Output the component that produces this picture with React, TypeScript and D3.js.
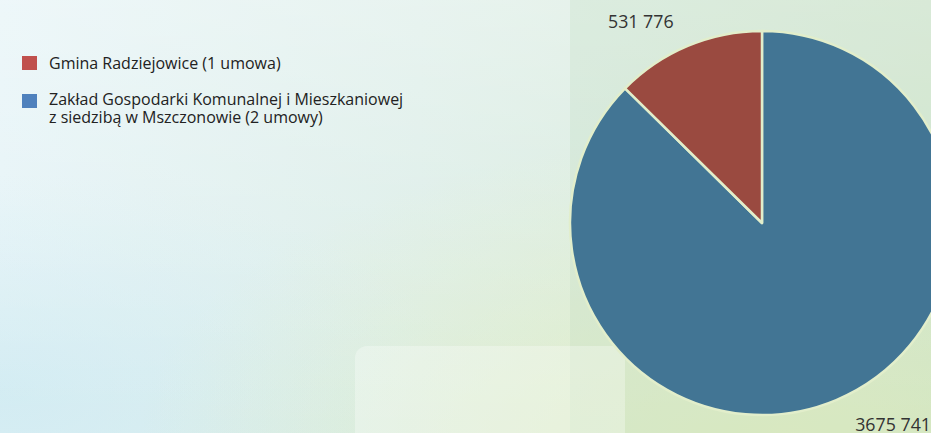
import React, { useEffect, useRef } from "react";
import * as d3 from "d3";

const categories = [
  "Zakład Gospodarki Komunalnej i Mieszkaniowej z siedzibą w Mszczonowie (2 umowy)",
  "Gmina Radziejowice (1 umowa)",
];
const values = [3675741, 531776];
const valueLabels = ["3675 741", "531 776"];
const sliceColors = ["#427594", "#9a4a40"];
const legendLabels = [
  ["Gmina Radziejowice (1 umowa)"],
  ["Zakład Gospodarki Komunalnej i Mieszkaniowej", "z siedzibą w Mszczonowie (2 umowy)"],
];
const legendColors = ["#c0504d", "#4f81bd"];

const W = 931;
const H = 433;

export default function App() {
  const ref = useRef<SVGSVGElement>(null);
  useEffect(() => {
    const svg = d3.select(ref.current);
    svg.selectAll("*").remove();
    const defs = svg.append("defs");
    const g1 = defs.append("linearGradient").attr("id", "bgx").attr("x1", 0).attr("y1", 0).attr("x2", 1).attr("y2", 0);
    g1.append("stop").attr("offset", 0).attr("stop-color", "#e2f2f6");
    g1.append("stop").attr("offset", 0.45).attr("stop-color", "#d9ece6");
    g1.append("stop").attr("offset", 1).attr("stop-color", "#cfe5cc");
    const g2 = defs.append("linearGradient").attr("id", "bgy").attr("x1", 0).attr("y1", 0).attr("x2", 0).attr("y2", 1);
    g2.append("stop").attr("offset", 0).attr("stop-color", "#ffffff").attr("stop-opacity", 0.4);
    g2.append("stop").attr("offset", 1).attr("stop-color", "#ffffff").attr("stop-opacity", 0);
    const g3 = defs.append("radialGradient").attr("id", "bgr").attr("cx", 0.85).attr("cy", 1).attr("r", 0.7);
    g3.append("stop").attr("offset", 0).attr("stop-color", "#e4efc2").attr("stop-opacity", 0.9);
    g3.append("stop").attr("offset", 1).attr("stop-color", "#e4efc2").attr("stop-opacity", 0);
    const g4 = defs.append("radialGradient").attr("id", "bgl").attr("cx", 0).attr("cy", 0.9).attr("r", 0.5);
    g4.append("stop").attr("offset", 0).attr("stop-color", "#d0ebf2").attr("stop-opacity", 0.9);
    g4.append("stop").attr("offset", 1).attr("stop-color", "#d0ebf2").attr("stop-opacity", 0);

    svg.append("rect").attr("width", W).attr("height", H).attr("fill", "url(#bgx)");
    svg.append("rect").attr("width", W).attr("height", H).attr("fill", "url(#bgl)");
    svg.append("rect").attr("width", W).attr("height", H).attr("fill", "url(#bgr)");
    svg.append("rect").attr("width", W).attr("height", H).attr("fill", "url(#bgy)");
    svg.append("rect").attr("x", 570).attr("y", 0).attr("width", W - 570).attr("height", H)
      .attr("fill", "#b8d8b8").attr("opacity", 0.22);
    svg.append("rect").attr("x", 355).attr("y", 346).attr("width", 270).attr("height", 120).attr("rx", 12)
      .attr("fill", "#ffffff").attr("opacity", 0.3);

    const cx = 762, cy = 223, r = 192;
    const pie = d3.pie<number>().sort(null).value((d) => d);
    const arcs = pie(values);
    const arc = d3.arc<d3.PieArcDatum<number>>().innerRadius(0).outerRadius(r);
    const gp = svg.append("g").attr("transform", `translate(${cx},${cy})`);
    gp.selectAll("path").data(arcs).enter().append("path")
      .attr("d", arc as any)
      .attr("fill", (_, i) => sliceColors[i])
      .attr("stroke", "#e2eecb")
      .attr("stroke-width", 2.5)
      .attr("stroke-linejoin", "round");

    const font = "'Open Sans', 'Noto Sans', sans-serif";
    svg.append("text").attr("x", 931).attr("y", 431).attr("text-anchor", "end")
      .attr("font-family", font).attr("font-size", 17.8).attr("fill", "#333")
      .text(valueLabels[0]);
    svg.append("text").attr("x", 608).attr("y", 28)
      .attr("font-family", font).attr("font-size", 17.8).attr("fill", "#333")
      .text(valueLabels[1]);

    const ly = [56, 94];
    const ty = [69, 105];
    legendLabels.forEach((lines, i) => {
      svg.append("rect").attr("x", 22).attr("y", ly[i]).attr("width", 15).attr("height", 14).attr("fill", legendColors[i]);
      const t = svg.append("text").attr("x", 49).attr("y", ty[i])
        .attr("font-family", font).attr("font-size", 16).attr("fill", "#222");
      lines.forEach((s, j) => {
        t.append("tspan").attr("x", 49).attr("dy", j === 0 ? 0 : 18).text(s);
      });
    });
    void categories;
  }, []);
  return (
    <div style={{ position: "fixed", left: 0, top: 0, width: W, height: H }}>
      <svg ref={ref} width={W} height={H} style={{ display: "block" }} />
    </div>
  );
}
